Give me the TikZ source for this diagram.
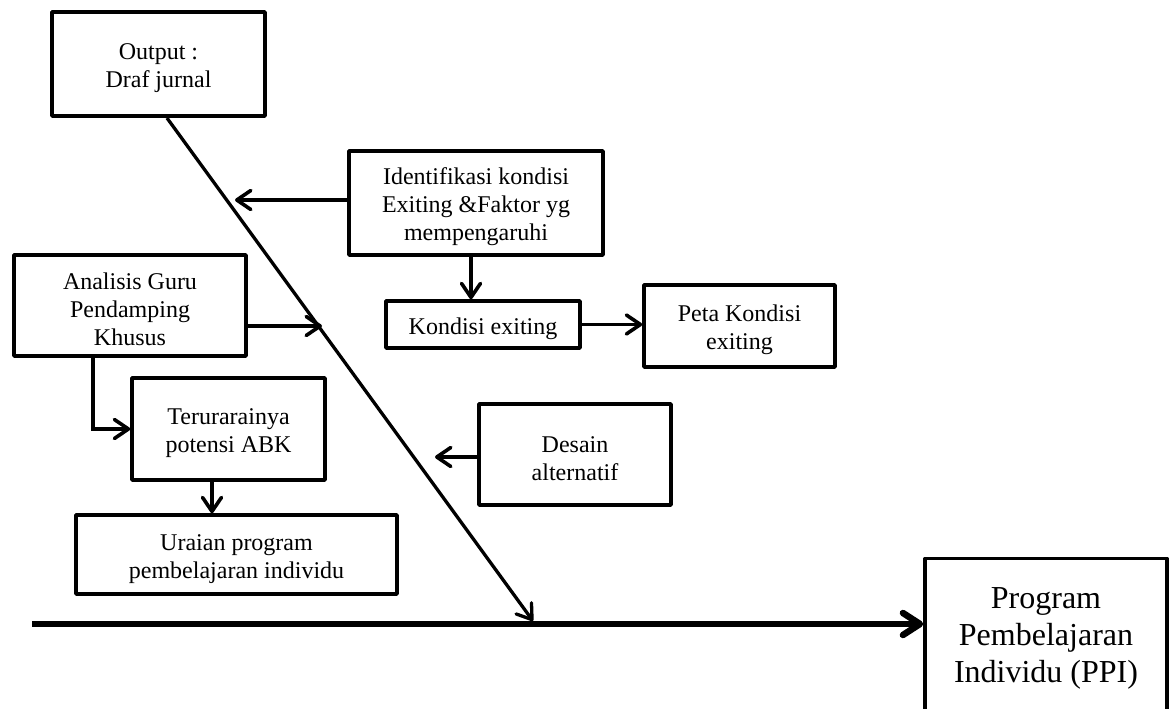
\documentclass[tikz,border=0pt]{standalone}
\usepackage{fontspec}
\setmainfont{Liberation Serif}
\usetikzlibrary{arrows.meta,calc}
\newcommand\upstrut{\rule{0pt}{25pt}}
\begin{document}
\begin{tikzpicture}[x=1pt,y=-1pt,
  box/.style={draw,line width=3.6pt,line join=round,inner sep=0pt,align=center,
    font=\fontsize{24}{28}\selectfont},
  conn/.style={line width=3.6pt,-{Straight Barb[length=14pt,width=19pt,line cap=round,line join=round]}},
  diag/.style={line width=3.3pt,-{Straight Barb[length=14pt,width=19pt,line cap=round,line join=round]}},
  mainline/.style={line width=6.5pt,-{Straight Barb[length=17pt,width=22pt,line cap=round,line join=round]}}]
\useasboundingbox (0,0) rectangle (1170,709);
% boxes
\node[box,minimum width=213pt,minimum height=104pt] (out) at (158.5,64) {\upstrut Output :\\Draf jurnal};
\node[box,minimum width=254pt,minimum height=104pt] (ident) at (476,203) {\upstrut Identifikasi kondisi\\Exiting \&Faktor yg\\mempengaruhi};
\node[box,minimum width=194pt,minimum height=47pt] (kond) at (483,324.5) {\upstrut Kondisi exiting};
\node[box,minimum width=191pt,minimum height=82pt] (peta) at (739.5,326) {\upstrut Peta Kondisi\\exiting};
\node[box,minimum width=232pt,minimum height=101pt] (anal) at (130,305.5) {\upstrut Analisis Guru\\Pendamping\\Khusus};
\node[box,minimum width=193pt,minimum height=102pt] (teru) at (228.5,429) {\upstrut Terurarainya\\potensi ABK};
\node[box,minimum width=321pt,minimum height=79pt] (urai) at (236.5,554.5) {\upstrut Uraian program\\pembelajaran individu};
\node[box,minimum width=192pt,minimum height=101pt] (desain) at (575,454.5) {\upstrut Desain\\alternatif};
\node[box,minimum width=242pt,minimum height=159pt,font=\fontsize{32}{37}\selectfont] (ppi) at (1046,638) {Program\\Pembelajaran\\Individu (PPI)};
% coordinates
\coordinate (d1) at (167,118);
\coordinate (d2) at (533,621);
\coordinate (m0) at (32,624);
\coordinate (t1) at (235,200);
\coordinate (t2) at (322,326);
\coordinate (t3) at (435,457);
\coordinate (k1) at (471,0);
\coordinate (e1) at (93,0);
\coordinate (u1) at (212,0);
% connectors
\draw[mainline] (m0) -- (m0 -| ppi.west);
\draw[diag] (d1) -- (d2);
\draw[conn] (ident.west |- t1) -- (t1);
\draw[conn] (ident.south -| k1) -- (kond.north -| k1);
\draw[conn] (kond.east) -- (peta.west |- kond.east);
\draw[conn] (anal.east |- t2) -- (t2);
\draw[conn] (anal.south -| e1) |- (teru.west);
\draw[conn] (teru.south -| u1) -- (urai.north -| u1);
\draw[conn] (desain.west |- t3) -- (t3);
\end{tikzpicture}
\end{document}
